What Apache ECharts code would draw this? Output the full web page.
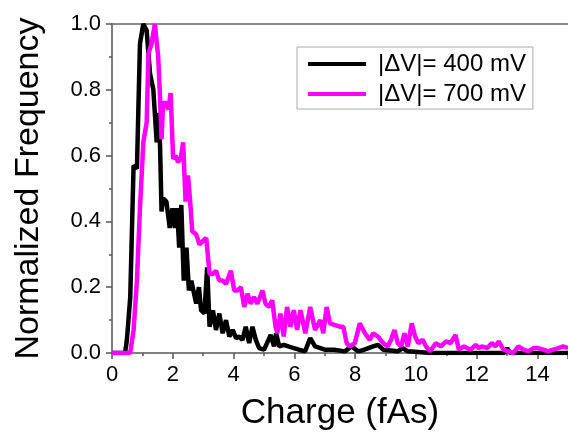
<!DOCTYPE html>
<html>
<head>
<meta charset="utf-8">
<script src="https://cdn.jsdelivr.net/npm/echarts@6/dist/echarts.min.js"></script>
<style>
  html, body { margin: 0; padding: 0; background: #fff; }
  #main { width: 568px; height: 436px; }
</style>
</head>
<body>
<div id="main"></div>
<script>
// series names
const seriesNames = ["|ΔV|= 400 mV", "|ΔV|= 700 mV"];

// [charge (fAs), normalized frequency]
const data400 = [
  [0, 0], [0.43, 0], [0.49, 0.04], [0.6, 0.17], [0.71, 0.57], [0.82, 0.56], [0.92, 0.94],
  [1.03, 1.0], [1.14, 0.98], [1.25, 0.85], [1.36, 0.8], [1.47, 0.64], [1.52, 0.73],
  [1.58, 0.63], [1.63, 0.43], [1.68, 0.47], [1.79, 0.46], [1.9, 0.38], [1.99, 0.44],
  [2.07, 0.38], [2.14, 0.44], [2.21, 0.32], [2.28, 0.45], [2.36, 0.22], [2.45, 0.32],
  [2.53, 0.19], [2.61, 0.22], [2.7, 0.18], [2.77, 0.15], [2.86, 0.2], [2.93, 0.13],
  [3.04, 0.12], [3.13, 0.26], [3.21, 0.08], [3.32, 0.13], [3.42, 0.07], [3.53, 0.12],
  [3.64, 0.06], [3.75, 0.1], [3.86, 0.05], [3.97, 0.07], [4.08, 0.045], [4.18, 0.05],
  [4.29, 0.04], [4.4, 0.08], [4.51, 0.03], [4.62, 0.08], [4.73, 0.04], [4.84, 0.015],
  [5.0, 0.01], [5.1, 0.03], [5.22, 0.055], [5.33, 0.02], [5.4, 0.06], [5.5, 0.02],
  [5.65, 0.025], [5.8, 0.02], [5.98, 0.015], [6.15, 0.01], [6.35, 0.005], [6.52, 0.045],
  [6.68, 0.02], [6.85, 0.015], [7.0, 0.01], [7.3, 0.01], [7.66, 0.005], [7.88, 0.02],
  [8.1, 0.005], [8.3, 0.01], [8.59, 0.02], [8.75, 0.025], [8.92, 0.01], [9.4, 0.005],
  [9.56, 0.015], [9.73, 0.005], [10.5, 0], [11, 0], [12, 0], [12.9, 0], [13.0, 0.015],
  [13.1, 0], [14, 0], [15, 0]
];

const data700 = [
  [0, 0], [0.6, 0], [0.71, 0.07], [0.82, 0.22], [0.92, 0.44], [1.03, 0.64], [1.14, 0.7],
  [1.2, 0.91], [1.3, 0.94], [1.41, 1.0], [1.52, 0.9], [1.58, 0.78], [1.63, 0.65],
  [1.68, 0.76], [1.79, 0.76], [1.85, 0.74], [1.93, 0.79], [2.01, 0.59], [2.1, 0.6],
  [2.17, 0.58], [2.26, 0.59], [2.34, 0.64], [2.42, 0.46], [2.5, 0.54], [2.58, 0.45],
  [2.64, 0.37], [2.77, 0.36], [2.88, 0.33], [2.99, 0.34], [3.1, 0.35], [3.21, 0.24],
  [3.32, 0.24], [3.42, 0.25], [3.53, 0.22], [3.64, 0.22], [3.75, 0.21], [3.91, 0.25],
  [4.02, 0.19], [4.13, 0.19], [4.24, 0.2], [4.35, 0.14], [4.46, 0.18], [4.56, 0.15],
  [4.67, 0.17], [4.78, 0.15], [4.95, 0.19], [5.05, 0.15], [5.16, 0.14], [5.27, 0.16],
  [5.38, 0.08], [5.44, 0.06], [5.54, 0.12], [5.65, 0.05], [5.76, 0.14], [5.87, 0.08],
  [5.98, 0.13], [6.09, 0.07], [6.2, 0.13], [6.36, 0.06], [6.52, 0.14], [6.68, 0.07],
  [6.85, 0.1], [6.95, 0.06], [7.06, 0.14], [7.17, 0.09], [7.34, 0.085], [7.5, 0.08],
  [7.61, 0.08], [7.72, 0.03], [7.82, 0.02], [7.99, 0.03], [8.15, 0.09], [8.32, 0.06],
  [8.48, 0.04], [8.59, 0.06], [8.75, 0.05], [8.92, 0.03], [9.07, 0.02], [9.18, 0.04],
  [9.29, 0.07], [9.4, 0.03], [9.51, 0.02], [9.62, 0.06], [9.73, 0.02], [9.86, 0.09],
  [9.97, 0.05], [10.08, 0.03], [10.22, 0.04], [10.33, 0.02], [10.47, 0.005], [10.65, 0.03],
  [10.82, 0.02], [10.98, 0.035], [11.14, 0.03], [11.3, 0.055], [11.41, 0.01], [11.58, 0.02],
  [11.8, 0.01], [11.96, 0.025], [12.07, 0.015], [12.17, 0.02], [12.34, 0.015], [12.5, 0.03],
  [12.61, 0.02], [12.72, 0.035], [12.88, 0.01], [13.04, 0.005], [13.2, 0], [13.37, 0.02],
  [13.53, 0.01], [13.7, 0.005], [13.86, 0.015], [14.02, 0.015], [14.19, 0.01], [14.35, 0.005],
  [14.51, 0.01], [14.68, 0.015], [14.84, 0.02], [15, 0.015]
];

const font = "'Liberation Sans', Arial, sans-serif";
const axisColor = "#555";

const chart = echarts.init(document.getElementById("main"));

const option = {
  animation: false,
  backgroundColor: "#fff",
  grid: { left: 112, top: 24, right: -4, bottom: 81, containLabel: false },
  legend: {
    orient: "vertical",
    left: 297,
    top: 47,
    padding: [5, 7, 3, 11],
    itemGap: 6,
    itemWidth: 58,
    itemHeight: 4,
    icon: "rect",
    borderColor: "#aaa",
    borderWidth: 1,
    backgroundColor: "#fff",
    textStyle: {
      fontFamily: font,
      fontSize: 24,
      lineHeight: 24,
      color: "#000",
      padding: [0, 0, 0, 7]
    },
    data: seriesNames
  },
  xAxis: [
    {
      type: "value",
      min: 0,
      max: 15,
      interval: 2,
      name: "Charge (fAs)",
      nameLocation: "middle",
      nameGap: 43,
      nameTextStyle: { fontFamily: font, fontSize: 35, color: "#000" },
      axisLine: { onZero: false, lineStyle: { color: axisColor, width: 1.5 } },
      axisTick: { length: 6, lineStyle: { color: axisColor, width: 1.5 } },
      minorTick: { show: true, splitNumber: 2, length: 3, lineStyle: { color: axisColor, width: 1.5 } },
      axisLabel: { fontFamily: font, fontSize: 22, color: "#000", margin: 11, showMaxLabel: false },
      splitLine: { show: false }
    },
    {
      type: "value",
      position: "top",
      min: 0,
      max: 15,
      axisLine: { show: true, onZero: false, lineStyle: { color: "#666", width: 1.5 } },
      axisTick: { show: false },
      axisLabel: { show: false },
      splitLine: { show: false }
    }
  ],
  yAxis: {
    type: "value",
    min: 0,
    max: 1,
    interval: 0.2,
    name: "Normalized Frequency",
    nameLocation: "middle",
    nameGap: 66,
    nameTextStyle: { fontFamily: font, fontSize: 34, color: "#000" },
    axisLine: { show: true, onZero: false, lineStyle: { color: axisColor, width: 1.5 } },
    axisTick: { show: true, length: 6, lineStyle: { color: axisColor, width: 1.5 } },
    minorTick: { show: true, splitNumber: 2, length: 3, lineStyle: { color: axisColor, width: 1.5 } },
    axisLabel: {
      fontFamily: font,
      fontSize: 22,
      color: "#000",
      margin: 11,
      formatter: v => v.toFixed(1)
    },
    splitLine: { show: false }
  },
  series: [
    {
      name: seriesNames[0],
      type: "line",
      data: data400,
      showSymbol: false,
      color: "#000",
      lineStyle: { width: 4.5, color: "#000" },
      z: 2
    },
    {
      name: seriesNames[1],
      type: "line",
      data: data700,
      showSymbol: false,
      color: "#ff00ff",
      lineStyle: { width: 4.5, color: "#ff00ff" },
      z: 3
    }
  ]
};

chart.setOption(option);
</script>
</body>
</html>
